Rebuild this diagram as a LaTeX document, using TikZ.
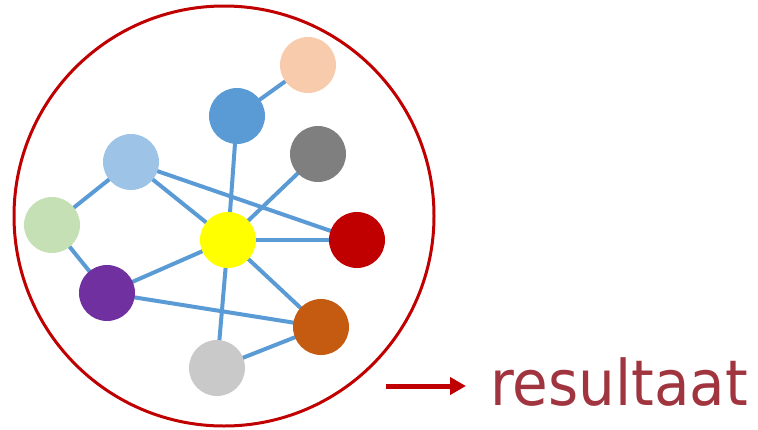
\documentclass[tikz,border=0pt]{standalone}
\usepackage{fontspec}
\setmainfont{DejaVu Sans}[FakeStretch=0.92]
\usetikzlibrary{arrows.meta,backgrounds}
\definecolor{edgeblue}{HTML}{5B9BD5}
\definecolor{darkred}{HTML}{C00000}
\definecolor{txtred}{HTML}{A0353F}
\definecolor{cpeach}{HTML}{F8CBAD}
\definecolor{cblue}{HTML}{5B9BD5}
\definecolor{cgray}{HTML}{7F7F7F}
\definecolor{clblue}{HTML}{9DC3E6}
\definecolor{clgreen}{HTML}{C5E0B4}
\definecolor{cyellow}{HTML}{FFFF00}
\definecolor{cred}{HTML}{C00000}
\definecolor{cpurple}{HTML}{7030A0}
\definecolor{corange}{HTML}{C55A11}
\definecolor{clgray}{HTML}{C9C9C9}
\tikzset{
  dot/.style={circle, minimum size=56pt, inner sep=0pt, draw=none},
  link/.style={draw=edgeblue, line width=4pt},
}
\begin{document}
\begin{tikzpicture}[x=1pt,y=-1pt]
\useasboundingbox (0,0) rectangle (758,429);
\node[circle, draw=darkred, line width=3pt, minimum size=420pt, inner sep=0pt] (big) at (224,216) {};
\node[dot, fill=cpeach] (peach) at (308,65) {};
\node[dot, fill=cblue] (blue) at (237,116) {};
\node[dot, fill=cgray] (gray) at (318,154) {};
\node[dot, fill=clblue] (lblue) at (131,162) {};
\node[dot, fill=clgreen] (lgreen) at (52,225) {};
\node[dot, fill=cyellow] (yellow) at (228,240) {};
\node[dot, fill=cred] (red) at (357,240) {};
\node[dot, fill=cpurple] (purple) at (107,293) {};
\node[dot, fill=corange] (orange) at (321,327) {};
\node[dot, fill=clgray] (lgray) at (217,368) {};
\begin{scope}[on background layer]
\draw[link] (peach.center) -- (blue.center);
\draw[link] (blue.center) -- (yellow.center);
\draw[link] (gray.center) -- (yellow.center);
\draw[link] (lblue.center) -- (yellow.center);
\draw[link] (lblue.center) -- (red.center);
\draw[link] (lblue.center) -- (lgreen.center);
\draw[link] (lgreen.center) -- (purple.center);
\draw[link] (yellow.center) -- (red.center);
\draw[link] (yellow.center) -- (purple.center);
\draw[link] (yellow.center) -- (orange.center);
\draw[link] (yellow.center) -- (lgray.center);
\draw[link] (purple.center) -- (orange.center);
\draw[link] (lgray.center) -- (orange.center);
\end{scope}
\coordinate (as) at (386,386);
\coordinate (ae) at (466,386);
\draw[darkred, line width=5pt, -{Triangle[length=16pt,width=17pt]}] (as) -- (ae);
\node[anchor=base west, inner sep=0pt, text=txtred, font=\fontsize{63}{70}\selectfont] (res) at (490,405) {resultaat};
\end{tikzpicture}
\end{document}
